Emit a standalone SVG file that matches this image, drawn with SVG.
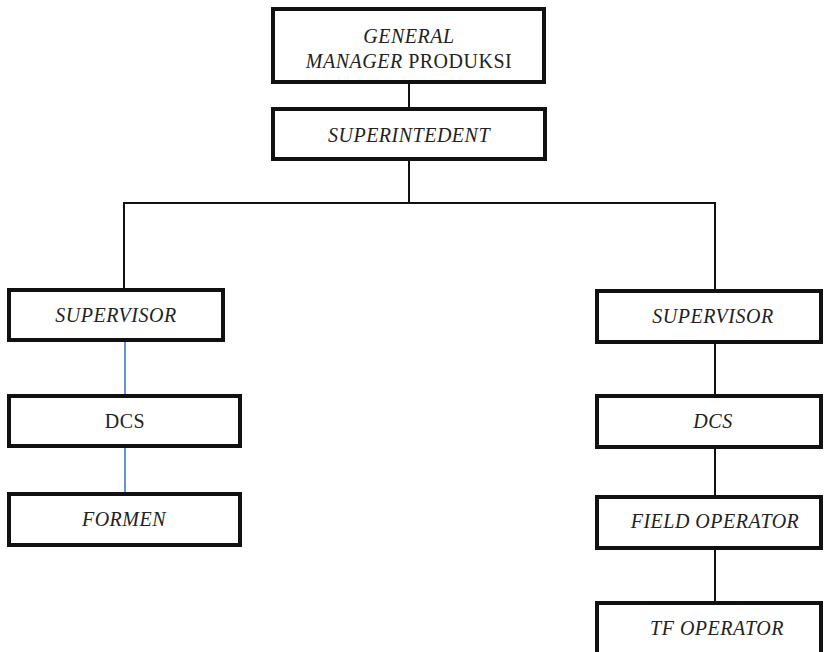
<svg xmlns="http://www.w3.org/2000/svg" width="824" height="652" viewBox="0 0 824 652">
<style>
.box{fill:#fff;stroke:#111;stroke-width:4}
.t{font-family:'Liberation Serif','DejaVu Serif',serif;font-size:20px;letter-spacing:0.5px;fill:#222;text-anchor:middle;font-style:italic}
.n{font-style:normal}
.c{fill:none;stroke:#111;stroke-width:2}
.b{fill:none;stroke:#3f78c8;stroke-width:1.6}
</style>
<rect width="824" height="652" fill="#fff"/>
<g id="connectors">
<line class="c" x1="409" y1="82" x2="409" y2="109"/>
<line class="c" x1="409" y1="158" x2="409" y2="204"/>
<polyline class="c" points="124,290 124,203 715,203 715,291"/>
<line class="b" x1="125" y1="340" x2="125" y2="396"/>
<line class="b" x1="125" y1="446" x2="125" y2="494"/>
<line class="c" x1="715" y1="342" x2="715" y2="396"/>
<line class="c" x1="715" y1="447" x2="715" y2="497"/>
<line class="c" x1="715" y1="548" x2="715" y2="603"/>
</g>
<g id="gm">
<rect class="box" x="273" y="9" width="271" height="73" stroke-width="5"/>
<text class="t" x="409" y="43">GENERAL</text>
<text class="t" x="409" y="68">MANAGER<tspan class="n"> PRODUKSI</tspan></text>
</g>
<g id="superintendent">
<rect class="box" x="273" y="109" width="272" height="50"/>
<text class="t" x="409" y="142">SUPERINTEDENT</text>
</g>
<g id="supervisor-left">
<rect class="box" x="9" y="290" width="214" height="50"/>
<text class="t" x="116" y="322">SUPERVISOR</text>
</g>
<g id="dcs-left">
<rect class="box" x="9" y="396" width="231" height="50"/>
<text class="t n" x="125" y="428">DCS</text>
</g>
<g id="formen">
<rect class="box" x="9" y="494" width="231" height="51"/>
<text class="t" x="124" y="526">FORMEN</text>
</g>
<g id="supervisor-right">
<rect class="box" x="597" y="291" width="224" height="51"/>
<text class="t" x="713" y="323">SUPERVISOR</text>
</g>
<g id="dcs-right">
<rect class="box" x="597" y="396" width="224" height="51"/>
<text class="t" x="713" y="428">DCS</text>
</g>
<g id="field-operator">
<rect class="box" x="597" y="497" width="224" height="51"/>
<text class="t" x="715" y="528">FIELD OPERATOR</text>
</g>
<g id="tf-operator">
<rect class="box" x="597" y="603" width="224" height="60"/>
<text class="t" x="717" y="635">TF OPERATOR</text>
</g>
</svg>
